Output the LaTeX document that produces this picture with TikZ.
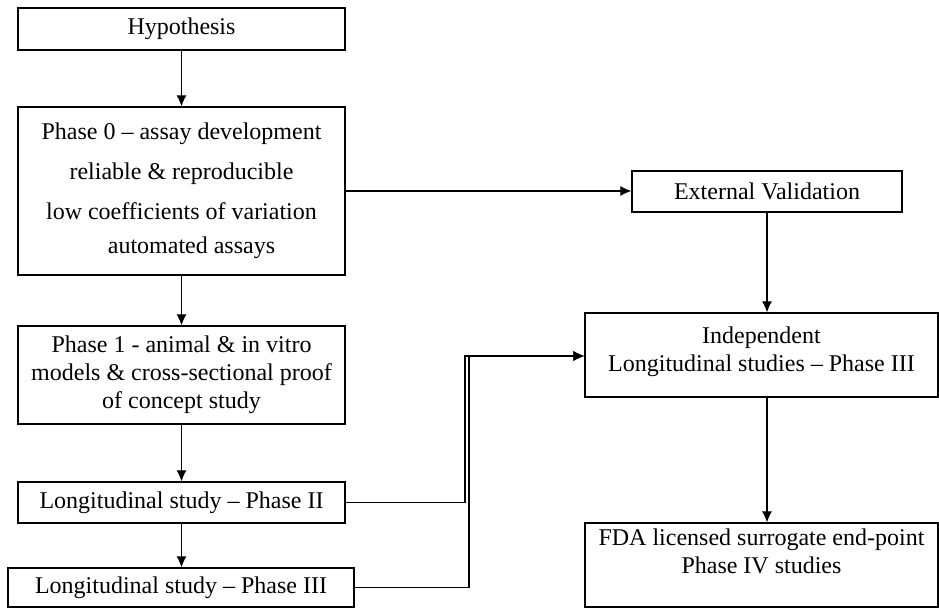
\documentclass[tikz,border=0pt]{standalone}
\usepackage{
	fontspec,			% Fonts
	tikz
}
\setmainfont{Liberation Serif}
\usetikzlibrary{positioning,arrows.meta}

\tikzset{
	box/.style={draw,line width=0.6pt,align=center,inner sep=0pt,
		font=\fontsize{12}{14}\selectfont},
	flow/.style={-{Latex[length=5.5pt,width=5pt]},line width=0.6pt}
}

\begin{document}
\begin{tikzpicture}[x=0.5pt,y=-0.5pt]
		\useasboundingbox (0,0) rectangle (939,608);
		% left column
		\node[box,minimum width=163.5pt,minimum height=21pt] (hyp) at (181.5,29) {Hypothesis};
		\node[box,minimum width=163.5pt,minimum height=84pt] (phase0) at (181.5,191)
			{Phase 0 -- assay development\\[6pt]
			 reliable \& reproducible\\[6pt]
			 low coefficients of variation\\[3pt]
			 \hspace*{10pt}automated assays};
		\node[box,minimum width=163.5pt,minimum height=49pt] (phase1) at (181.5,375)
			{Phase 1 - animal \& in vitro\\
			 models \& cross-sectional proof\\
			 of concept study};
		\node[box,minimum width=163.5pt,minimum height=20.5pt] (long2) at (181.5,502.5)
			{Longitudinal study -- Phase II};
		\node[box,minimum width=173pt,minimum height=19.5pt] (long3) at (181,587.5)
			{Longitudinal study -- Phase III};
		% right column
		\node[box,minimum width=135pt,minimum height=20.5pt] (extval) at (767,191.5)
			{External Validation};
		\node[box,minimum width=176.5pt,minimum height=42pt] (indep) at (761.5,355)
			{Independent\\
			 Longitudinal studies -- Phase III\\[-8pt]\mbox{}};
		\node[box,minimum width=176.5pt,minimum height=42pt] (fda) at (761.5,565)
			{FDA licensed surrogate end-point\\
			 Phase IV studies\\\mbox{}};
		\coordinate (j2) at (465,356);
		\coordinate (j3) at (469,356);
		% arrows
		\draw[flow] (hyp) -- (phase0);
		\draw[flow] (phase0) -- (phase1);
		\draw[flow] (phase1) -- (long2);
		\draw[flow] (long2) -- (long2 |- long3.north);
		\draw[flow] (phase0.east) -- (phase0.east -| extval.west);
		\draw[flow] (extval) -- (extval |- indep.north);
		\draw[flow] (extval |- indep.south) -- (extval |- fda.north);
		\draw[flow] (long2.east) -| (j2) -- (j2 -| indep.west);
		\draw[flow] (long3.east) -| (j3) -- (j3 -| indep.west);
	\end{tikzpicture}
\end{document}
